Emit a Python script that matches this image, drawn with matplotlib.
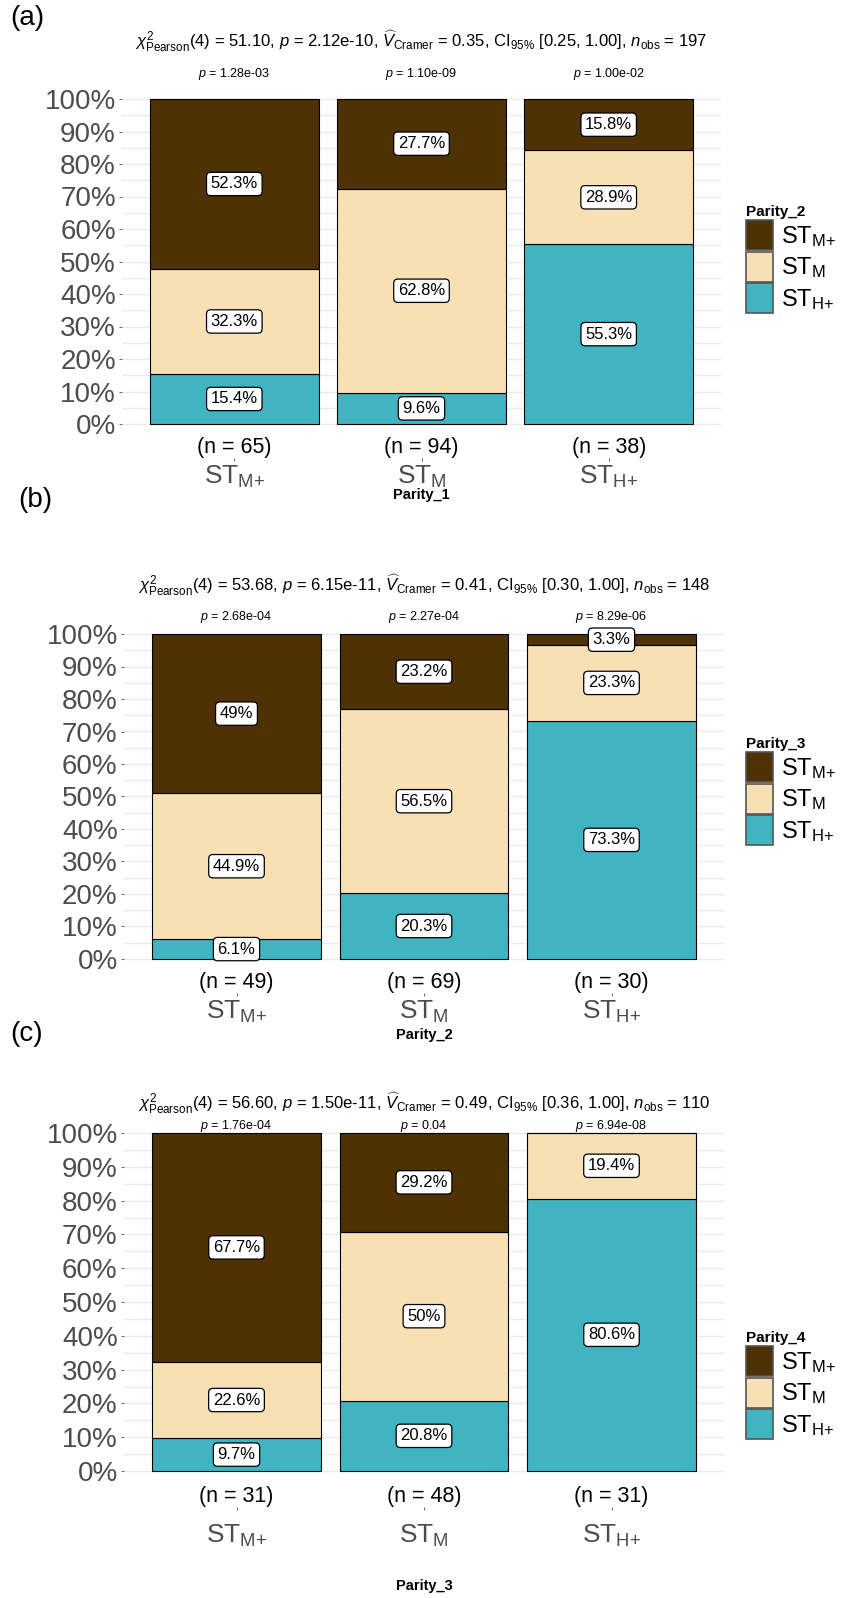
import matplotlib.pyplot as plt
from matplotlib.patches import Patch

plt.rcParams["font.family"] = ["Liberation Sans", "DejaVu Sans"]
plt.rcParams["mathtext.fontset"] = "custom"
plt.rcParams["mathtext.rm"] = "Liberation Sans"
plt.rcParams["mathtext.it"] = "Liberation Sans:italic"
plt.rcParams["mathtext.bf"] = "Liberation Sans:bold"

# 数据
groups = [r"$\mathrm{ST}_{\mathrm{M}{+}}$", r"$\mathrm{ST}_{\mathrm{M}}$", r"$\mathrm{ST}_{\mathrm{H}{+}}$"]
panel_tags = ["(a)", "(b)", "(c)"]
x_names = ["Parity_1", "Parity_2", "Parity_3"]
fill_names = ["Parity_2", "Parity_3", "Parity_4"]

n_a = [65, 94, 38]
mplus_a = [52.3, 27.7, 15.8]
m_a = [32.3, 62.8, 28.9]
hplus_a = [15.4, 9.6, 55.3]
p_a = ["1.28e-03", "1.10e-09", "1.00e-02"]
sub_a = ["51.10", "2.12e-10", "0.35", "[0.25, 1.00]", "197"]

n_b = [49, 69, 30]
mplus_b = [49, 23.2, 3.3]
m_b = [44.9, 56.5, 23.3]
hplus_b = [6.1, 20.3, 73.3]
p_b = ["2.68e-04", "2.27e-04", "8.29e-06"]
sub_b = ["53.68", "6.15e-11", "0.41", "[0.30, 1.00]", "148"]

n_c = [31, 48, 31]
mplus_c = [67.7, 29.2, 0]
m_c = [22.6, 50, 19.4]
hplus_c = [9.7, 20.8, 80.6]
p_c = ["1.76e-04", "0.04", "6.94e-08"]
sub_c = ["56.60", "1.50e-11", "0.49", "[0.36, 1.00]", "110"]

panels = [
    (n_a, mplus_a, m_a, hplus_a, p_a, sub_a),
    (n_b, mplus_b, m_b, hplus_b, p_b, sub_b),
    (n_c, mplus_c, m_c, hplus_c, p_c, sub_c),
]

col_mplus = "#4E3104"
col_m = "#F8E0B5"
col_hplus = "#41B4C1"
grey = "#4D4D4D"

W, H = 852, 1598
fig = plt.figure(figsize=(W / 100, H / 100), dpi=100)

# 像素布局: 左, 100%处y, 右, 0%处y, 轴底y, 标签(x,y), 副标题y, p值y, n标签y, 刻度pad, x轴标题y, 图例顶y
layout = [
    dict(l=122, top=99, r=721, zero=424, bot=458, tag=(10, 18), sub=41, p=1.078, n=-0.072,
         pad=2, xlab=495, leg=193),
    dict(l=124, top=634, r=724, zero=959, bot=993, tag=(18, 500), sub=585, p=1.053, n=-0.072,
         pad=2, xlab=1035, leg=725),
    dict(l=124, top=1133, r=724, zero=1471, bot=1507, tag=(10, 1034), sub=1103, p=1.022, n=-0.075,
         pad=9, xlab=1586, leg=1319),
]

for k, (n, mplus, m, hplus, pv, sub) in enumerate(panels):
    L = layout[k]
    unit = L["zero"] - L["top"]
    lo = -(L["bot"] - L["zero"]) / unit
    hi = 1.12
    ax_h = (hi - lo) * unit
    ax = fig.add_axes([L["l"] / W, 1 - L["bot"] / H, (L["r"] - L["l"]) / W, ax_h / H])
    ax.set_xlim(-0.6, 2.6)
    ax.set_ylim(lo, hi)

    # 网格线 (每 5%)
    for g in range(21):
        ax.plot([-0.6, 2.6], [g * 0.05, g * 0.05], color="#EBEBEB", lw=1, zorder=0)

    x = range(3)
    hp = [v / 100 for v in hplus]
    mm = [v / 100 for v in m]
    mp = [v / 100 for v in mplus]
    ax.bar(x, hp, width=0.9, color=col_hplus, edgecolor="black", lw=0.8, zorder=2)
    ax.bar(x, mm, width=0.9, bottom=hp, color=col_m, edgecolor="black", lw=0.8, zorder=2)
    base2 = [a + b for a, b in zip(hp, mm)]
    ax.bar(x, mp, width=0.9, bottom=base2, color=col_mplus, edgecolor="black", lw=0.8, zorder=2)

    # 百分比标签
    box = dict(boxstyle="round,pad=0.25,rounding_size=0.25", fc="white", ec="black", lw=0.9)
    for i in x:
        for val, b in [(hplus[i], 0), (m[i], hp[i]), (mplus[i], base2[i])]:
            if val > 0:
                ax.text(i, b + val / 200, f"{val:g}%", ha="center", va="center",
                        fontsize=12, bbox=box, zorder=5)
        ax.text(i, L["n"], f"(n = {n[i]})", ha="center", va="center", fontsize=15.5)
        ax.text(i, L["p"], f"$\\mathit{{p}}$ = {pv[i]}", ha="center", va="center", fontsize=9)

    ax.set_xticks(list(x))
    ax.set_xticklabels(groups, fontsize=19, color=grey)
    ax.set_yticks([t / 10 for t in range(11)])
    ax.set_yticklabels([f"{t * 10}%" for t in range(11)], fontsize=20, color=grey)
    ax.tick_params(axis="both", length=2.5, width=0.6, color=grey, pad=2)
    ax.tick_params(axis="x", pad=L["pad"])
    ax.set_xlabel(x_names[k], fontsize=10.5, fontweight="bold", va="center")
    ax.xaxis.set_label_coords(0.5, (L["bot"] - L["xlab"]) / ax_h)
    for s in ax.spines.values():
        s.set_visible(False)

    # 副标题
    subtitle = (r"$\chi^2_{\mathrm{Pearson}}$(4) = " + sub[0] + r", $\mathit{p}$ = " + sub[1]
                + r", $\widehat{\mathit{V}}_{\mathrm{Cramer}}$ = " + sub[2]
                + r", CI$_{95\%}$ " + sub[3] + r", $\mathit{n}_{\mathrm{obs}}$ = " + sub[4])
    fig.text((L["l"] + L["r"]) / 2 / W, 1 - L["sub"] / H, subtitle, ha="center", va="center",
             fontsize=12)
    fig.text(L["tag"][0] / W, 1 - L["tag"][1] / H, panel_tags[k], ha="left", va="center",
             fontsize=20)

    # 图例
    handles = [Patch(facecolor=c, edgecolor="#555555", lw=1.2) for c in [col_mplus, col_m, col_hplus]]
    leg = fig.legend(handles, groups, loc="upper left", bbox_to_anchor=(734 / W, 1 - L["leg"] / H),
                     frameon=False, fontsize=17, title=fill_names[k],
                     title_fontproperties={"weight": "bold", "size": 11},
                     handlelength=1.15, handleheight=1.6, labelspacing=0.05,
                     handletextpad=0.35, borderpad=0)
    leg._legend_box.align = "left"

fig.savefig("out.png", dpi=100)
